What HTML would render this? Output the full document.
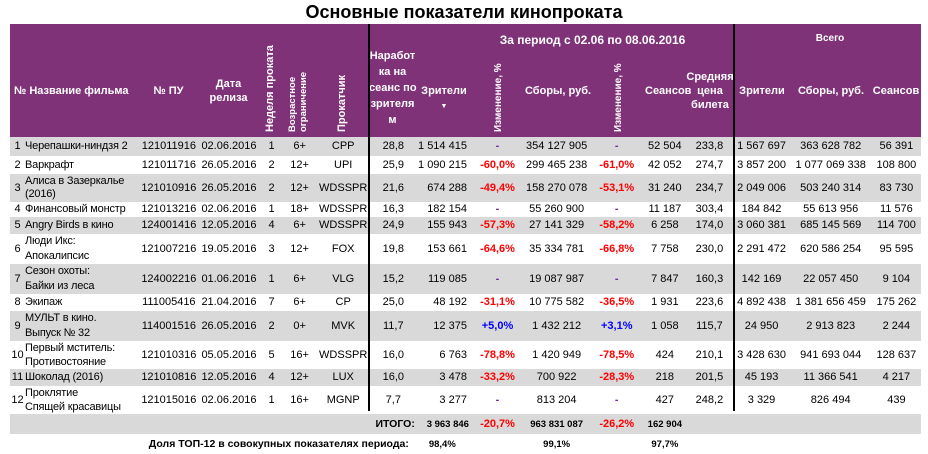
<!DOCTYPE html>
<html><head><meta charset="utf-8"><style>
body{margin:0;width:928px;height:451px;background:#fff;font-family:"Liberation Sans",sans-serif;position:relative;overflow:hidden;color:#000}
.t{position:absolute;left:0;width:928px;top:2px;text-align:center;font-weight:bold;font-size:18px}
.hd{position:absolute;left:10px;top:24px;width:911px;height:113px;background:#7f3278}
.h{position:absolute;color:#fff;font-weight:bold;font-size:11px;text-align:center;line-height:14px;white-space:nowrap}
.r{position:absolute;color:#fff;font-weight:bold;font-size:11px;white-space:nowrap;transform:rotate(-90deg);transform-origin:left top;line-height:13px}
table{position:absolute;left:10px;top:137px;border-collapse:collapse;table-layout:fixed;width:911px;font-size:11px}
td{padding:0;white-space:nowrap;text-align:center;line-height:13px;overflow:hidden}
tr.g td{background:#d9d9d9}
td.n{text-align:left;letter-spacing:-0.2px}
td.rt{text-align:right;padding-right:4px}
.red{color:#f00;font-weight:bold}.blu{color:#00f;font-weight:bold}.ds{color:#7030a0;font-weight:bold}
.vl{position:absolute;top:24px;height:387px;width:2px;background:#000}
.b{font-weight:bold;font-size:9.5px}
</style></head><body>
<div class="t">Основные показатели кинопроката</div>
<div class="hd"></div>
<div class="h" style="left:10px;top:84px;width:130px;text-align:left;padding-left:4px">№ Название фильма</div>
<div class="h" style="left:140px;top:84px;width:57px">№ ПУ</div>
<div class="h" style="left:197px;top:77px;width:63px">Дата<br>релиза</div>
<div class="r" style="left:264px;top:132px">Неделя проката</div>
<div class="r" style="left:287px;top:132px;font-size:9.5px;line-height:11px">Возрастное<br>ограничение</div>
<div class="r" style="left:336px;top:132px">Прокатчик</div>
<div class="h" style="left:369px;top:48px;width:47px;line-height:16px">Наработ<br>ка на<br>сеанс по<br>зрителя<br>м</div>
<div class="h" style="left:416px;top:84px;width:56px">Зрители<br><span style="font-size:7px">▼</span></div>
<div class="h" style="left:460px;top:33px;width:265px;font-size:12px">За период с 02.06 по 08.06.2016</div>
<div class="r" style="left:492px;top:132px;font-size:10px">Изменение, %</div>
<div class="h" style="left:525px;top:84px;width:65px">Сборы, руб.</div>
<div class="r" style="left:612px;top:132px;font-size:10px">Изменение, %</div>
<div class="h" style="left:645px;top:84px;width:41px">Сеансов</div>
<div class="h" style="left:684px;top:70px;width:52px">Средняя<br>цена<br>билета</div>
<div class="h" style="left:790px;top:32px;width:80px;font-size:10px">Всего</div>
<div class="h" style="left:734px;top:84px;width:56px">Зрители</div>
<div class="h" style="left:790px;top:84px;width:82px">Сборы, руб.</div>
<div class="h" style="left:870px;top:84px;width:52px">Сеансов</div>
<table>
<colgroup><col style="width:15px"><col style="width:115px"><col style="width:57px"><col style="width:63px"><col style="width:22px"><col style="width:34px"><col style="width:53px"><col style="width:47px"><col style="width:54px"><col style="width:53px"><col style="width:65px"><col style="width:55px"><col style="width:41px"><col style="width:48px"><col style="width:56px"><col style="width:82px"><col style="width:49px"></colgroup>
<tr class="g" style="height:19px"><td>1</td><td class="n">Черепашки-ниндзя 2</td><td>121011916</td><td>02.06.2016</td><td>1</td><td>6+</td><td>CPP</td><td>28,8</td><td class="rt">1 514 415</td><td class="ds">-</td><td>354 127 905</td><td class="ds">-</td><td>52 504</td><td>233,8</td><td>1 567 697</td><td>363 628 782</td><td>56 391</td></tr>
<tr style="height:18px"><td>2</td><td class="n">Варкрафт</td><td>121011716</td><td>26.05.2016</td><td>2</td><td>12+</td><td>UPI</td><td>25,9</td><td class="rt">1 090 215</td><td class="red">-60,0%</td><td>299 465 238</td><td class="red">-61,0%</td><td>42 052</td><td>274,7</td><td>3 857 200</td><td>1 077 069 338</td><td>108 800</td></tr>
<tr class="g" style="height:28px"><td>3</td><td class="n">Алиса в Зазеркалье<br>(2016)</td><td>121010916</td><td>26.05.2016</td><td>2</td><td>12+</td><td>WDSSPR</td><td>21,6</td><td class="rt">674 288</td><td class="red">-49,4%</td><td>158 270 078</td><td class="red">-53,1%</td><td>31 240</td><td>234,7</td><td>2 049 006</td><td>503 240 314</td><td>83 730</td></tr>
<tr style="height:15px"><td>4</td><td class="n">Финансовый монстр</td><td>121013216</td><td>02.06.2016</td><td>1</td><td>18+</td><td>WDSSPR</td><td>16,3</td><td class="rt">182 154</td><td class="ds">-</td><td>55 260 900</td><td class="ds">-</td><td>11 187</td><td>303,4</td><td>184 842</td><td>55 613 956</td><td>11 576</td></tr>
<tr class="g" style="height:17px"><td>5</td><td class="n">Angry Birds в кино</td><td>124001416</td><td>12.05.2016</td><td>4</td><td>6+</td><td>WDSSPR</td><td>24,9</td><td class="rt">155 943</td><td class="red">-57,3%</td><td>27 141 329</td><td class="red">-58,2%</td><td>6 258</td><td>174,0</td><td>3 060 381</td><td>685 145 569</td><td>114 700</td></tr>
<tr style="height:29px"><td>6</td><td class="n" style="line-height:15px">Люди Икс:<br>Апокалипсис</td><td>121007216</td><td>19.05.2016</td><td>3</td><td>12+</td><td>FOX</td><td>19,8</td><td class="rt">153 661</td><td class="red">-64,6%</td><td>35 334 781</td><td class="red">-66,8%</td><td>7 758</td><td>230,0</td><td>2 291 472</td><td>620 586 254</td><td>95 595</td></tr>
<tr class="g" style="height:29px"><td>7</td><td class="n" style="line-height:15px">Сезон охоты:<br>Байки из леса</td><td>124002216</td><td>01.06.2016</td><td>1</td><td>6+</td><td>VLG</td><td>15,2</td><td class="rt">119 085</td><td class="ds">-</td><td>19 087 987</td><td class="ds">-</td><td>7 847</td><td>160,3</td><td>142 169</td><td>22 057 450</td><td>9 104</td></tr>
<tr style="height:17px"><td>8</td><td class="n">Экипаж</td><td>111005416</td><td>21.04.2016</td><td>7</td><td>6+</td><td>CP</td><td>25,0</td><td class="rt">48 192</td><td class="red">-31,1%</td><td>10 775 582</td><td class="red">-36,5%</td><td>1 931</td><td>223,6</td><td>4 892 438</td><td>1 381 656 459</td><td>175 262</td></tr>
<tr class="g" style="height:29px"><td>9</td><td class="n" style="line-height:15px">МУЛЬТ в кино.<br>Выпуск № 32</td><td>114001516</td><td>26.05.2016</td><td>2</td><td>0+</td><td>MVK</td><td>11,7</td><td class="rt">12 375</td><td class="blu">+5,0%</td><td>1 432 212</td><td class="blu">+3,1%</td><td>1 058</td><td>115,7</td><td>24 950</td><td>2 913 823</td><td>2 244</td></tr>
<tr style="height:28px"><td>10</td><td class="n" style="line-height:14px">Первый мститель:<br>Противостояние</td><td>121010316</td><td>05.05.2016</td><td>5</td><td>16+</td><td>WDSSPR</td><td>16,0</td><td class="rt">6 763</td><td class="red">-78,8%</td><td>1 420 949</td><td class="red">-78,5%</td><td>424</td><td>210,1</td><td>3 428 630</td><td>941 693 044</td><td>128 637</td></tr>
<tr class="g" style="height:17px"><td>11</td><td class="n">Шоколад (2016)</td><td>121010816</td><td>12.05.2016</td><td>4</td><td>12+</td><td>LUX</td><td>16,0</td><td class="rt">3 478</td><td class="red">-33,2%</td><td>700 922</td><td class="red">-28,3%</td><td>218</td><td>201,5</td><td>45 193</td><td>11 366 541</td><td>4 217</td></tr>
<tr style="height:28px"><td>12</td><td class="n" style="line-height:14px">Проклятие<br>Спящей красавицы</td><td>121015016</td><td>02.06.2016</td><td>1</td><td>16+</td><td>MGNP</td><td>7,7</td><td class="rt">3 277</td><td class="ds">-</td><td>813 204</td><td class="ds">-</td><td>427</td><td>248,2</td><td>3 329</td><td>826 494</td><td>439</td></tr>
<tr class="g" style="height:20px"><td colspan="8" style="text-align:right;font-weight:bold;font-size:10.5px;padding-right:2px">ИТОГО:</td><td class="b rt" style="padding-right:2px">3 963 846</td><td class="red">-20,7%</td><td class="b">963 831 087</td><td class="red">-26,2%</td><td class="b">162 904</td><td></td><td></td><td></td><td></td></tr>
<tr style="height:20px"><td colspan="8" style="text-align:right;font-weight:bold;font-size:10.5px;padding-right:8px">Доля ТОП-12 в совокупных показателях периода:</td><td class="b" style="text-align:left;padding-left:12px">98,4%</td><td></td><td class="b">99,1%</td><td></td><td class="b">97,7%</td><td></td><td></td><td></td><td></td></tr>
</table>
<div class="vl" style="left:368px"></div>
<div class="vl" style="left:733px"></div>
</body></html>
